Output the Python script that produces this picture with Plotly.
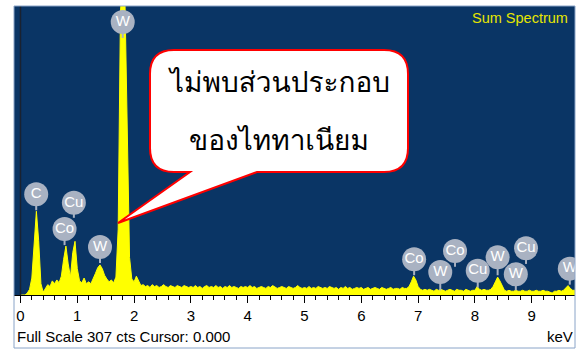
import plotly.graph_objects as go

# EDS sum spectrum, counts per 0.04 keV channel starting at 0 keV
CHANNEL_KEV = 0.04
counts = [
    # 0.00 - 0.96 keV
    0, 0, 0, 2, 6, 18, 52, 89, 58, 12, 3, 7, 11, 9, 15, 12, 16, 13, 20, 38, 52, 33, 19, 45, 57,
    # 1.00 - 1.96 keV
    28, 15, 13, 18, 12, 14, 12, 17, 23, 29, 32, 28, 21, 17, 14, 16, 13, 19, 70, 300, 340, 310, 150, 40, 17,
    # 2.00 - 2.96 keV
    14, 20, 14, 10, 11, 9, 10, 8, 11, 9, 10, 8, 9, 11, 9, 8, 10, 9, 8, 10, 9, 8, 10, 9, 8,
    # 3.00 - 3.96 keV
    9, 8, 10, 8, 9, 7, 9, 10, 8, 9, 8, 10, 8, 9, 7, 9, 8, 10, 8, 9, 8, 7, 9, 8, 9,
    # 4.00 - 4.96 keV
    8, 10, 8, 9, 7, 8, 9, 8, 7, 9, 8, 10, 8, 7, 8, 9, 8, 7, 9, 8, 7, 8, 10, 8, 7,
    # 5.00 - 5.96 keV
    8, 7, 9, 7, 8, 7, 9, 8, 7, 8, 7, 9, 8, 7, 8, 6, 8, 7, 9, 7, 8, 6, 7, 8, 7,
    # 6.00 - 6.96 keV
    8, 6, 7, 8, 6, 7, 8, 7, 6, 8, 7, 6, 7, 8, 6, 7, 7, 6, 8, 7, 7, 9, 14, 20, 16,
    # 7.00 - 7.96 keV
    9, 6, 5, 6, 5, 6, 5, 4, 6, 5, 6, 5, 4, 5, 6, 5, 4, 6, 5, 5, 4, 6, 5, 4, 5,
    # 8.00 - 8.96 keV
    5, 9, 6, 5, 6, 5, 5, 6, 9, 14, 19, 15, 9, 5, 4, 5, 4, 4, 5, 4, 4, 5, 4, 4, 5,
    # 9.00 - 9.80 keV
    4, 4, 5, 4, 4, 5, 4, 4, 3, 2, 4, 4, 5, 4, 5, 8, 10, 7, 5, 5, 4,
]
energies = [round(i * CHANNEL_KEV, 2) for i in range(len(counts))]

# Peak identification markers
peak_labels = ["C", "Co", "Cu", "W", "W", "Co", "W", "Co", "Cu", "W", "W", "Cu", "W"]
peak_kev = [0.277, 0.776, 0.94, 1.40, 1.80, 6.93, 7.39, 7.65, 8.05, 8.40, 8.72, 8.90, 9.67]
badge_cts = [107, 70, 98, 51, 290, 38, 24.4, 46.7, 25.8, 40, 22, 49.6, 28]
stem_end_cts = [90, 53, 82, 34, 273, 21, 5, 30, 8, 21, 5, 33, 11]

FULL_SCALE = 307
X_RANGE = [-0.114, 9.762]

BG_BLUE = "#0a3565"
BADGE = "#a9b2c2"
SPEC_YELLOW = "#ffff00"

fig = go.Figure()

fig.add_trace(go.Scatter(
    x=energies, y=counts, mode="lines", fill="tozeroy",
    line=dict(color=SPEC_YELLOW, width=1), fillcolor=SPEC_YELLOW,
    hoverinfo="skip", showlegend=False,
))

# stems from each badge down toward its peak
stem_x, stem_y = [], []
for e, b, s in zip(peak_kev, badge_cts, stem_end_cts):
    stem_x += [e, e, None]
    stem_y += [b, s, None]
fig.add_trace(go.Scatter(
    x=stem_x, y=stem_y, mode="lines", line=dict(color=BADGE, width=2),
    hoverinfo="skip", showlegend=False,
))

fig.add_trace(go.Scatter(
    x=peak_kev, y=badge_cts, mode="markers+text", text=peak_labels,
    textposition="middle center",
    textfont=dict(family="Liberation Sans, Arial, sans-serif", size=15, color="white"),
    marker=dict(size=24, color=BADGE, line=dict(width=0)),
    hoverinfo="skip", showlegend=False,
))

# callout bubble (rounded box with pointer), in data coordinates
def px_to_kev(px):
    return (px - 20.5) / 56.8

def py_to_cts(py):
    return (295 - py) * FULL_SCALE / 289

L, R = px_to_kev(150), px_to_kev(408)
T, B = py_to_cts(50), py_to_cts(172)
rx, ry = 24 / 56.8, 24 * FULL_SCALE / 289
p1, p2 = px_to_kev(190), px_to_kev(257)
tipx, tipy = px_to_kev(118), py_to_cts(223)
path = (
    f"M {L+rx},{T} L {R-rx},{T} Q {R},{T} {R},{T-ry} "
    f"L {R},{B+ry} Q {R},{B} {R-rx},{B} "
    f"L {p2},{B} L {tipx},{tipy} L {p1},{B} "
    f"L {L+rx},{B} Q {L},{B} {L},{B+ry} "
    f"L {L},{T-ry} Q {L},{T} {L+rx},{T} Z"
)

shapes = [
    # 0 keV marker line
    dict(type="line", xref="x", yref="paper", x0=0, x1=0, y0=0, y1=1,
         line=dict(color="#1a2230", width=1.5), layer="above"),
    dict(type="path", xref="x", yref="y", path=path, fillcolor="white",
         line=dict(color="#ff0000", width=2), layer="above"),
    # outer frame around plot and status strip
    dict(type="rect", xref="paper", yref="paper", x0=0, x1=1, y0=-0.1834, y1=1,
         line=dict(color="#8aa4c8", width=1), layer="above"),
]

thai_font = dict(family="Loma, Garuda, Noto Sans Thai Looped, Noto Sans Thai, sans-serif",
                 size=28, color="black")
annotations = [
    dict(x=(px_to_kev(150) + px_to_kev(408)) / 2, y=py_to_cts(82), xref="x", yref="y",
         text="ไม่พบส่วนประกอบ", showarrow=False, font=thai_font),
    dict(x=(px_to_kev(150) + px_to_kev(408)) / 2, y=py_to_cts(140), xref="x", yref="y",
         text="ของไททาเนียม", showarrow=False, font=thai_font),
    dict(x=0.991, y=0.9585, xref="paper", yref="paper", xanchor="right", yanchor="middle",
         text="Sum Spectrum", showarrow=False,
         font=dict(family="Liberation Sans, Arial, sans-serif", size=14.5, color="#e6e600")),
    dict(x=0.002, y=-0.1453, xref="paper", yref="paper", xanchor="left", yanchor="middle",
         text="Full Scale 307 cts Cursor: 0.000", showarrow=False,
         font=dict(family="Liberation Sans, Arial, sans-serif", size=15, color="black")),
    dict(x=1.0, y=-0.1453, xref="paper", yref="paper", xanchor="right", yanchor="middle",
         text="keV", showarrow=False,
         font=dict(family="Liberation Sans, Arial, sans-serif", size=15, color="black")),
]

fig.update_layout(
    width=579, height=349,
    margin=dict(l=14, r=4, t=6, b=54),
    paper_bgcolor="white", plot_bgcolor=BG_BLUE,
    shapes=shapes, annotations=annotations,
    xaxis=dict(
        range=X_RANGE, showgrid=False, zeroline=False,
        tickmode="array", tickvals=list(range(10)), ticktext=[str(i) for i in range(10)],
        ticks="outside", ticklen=7, tickwidth=1, tickcolor="black",
        minor=dict(dtick=0.2, ticks="outside", ticklen=4, tickcolor="black", showgrid=False),
        showline=True, linecolor="black", linewidth=1,
        tickfont=dict(family="Liberation Sans, Arial, sans-serif", size=15, color="black"),
    ),
    yaxis=dict(range=[0, FULL_SCALE], visible=False),
)

fig.write_html("out.html")
